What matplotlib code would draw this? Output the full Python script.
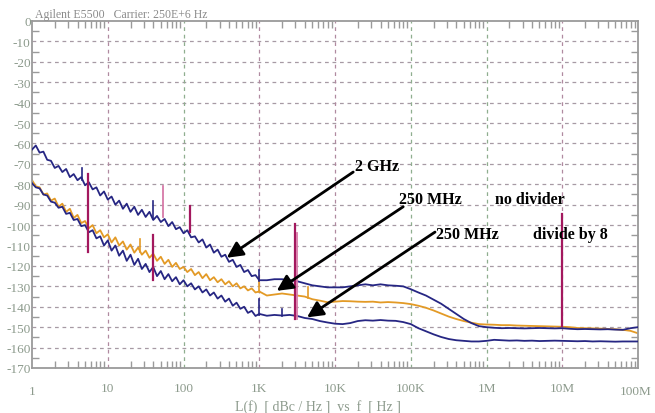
import numpy as np
import matplotlib
matplotlib.use('Agg')
import matplotlib.pyplot as plt

###########################
# Data
###########################

# offset frequency grid, as log10(Hz)
LOG_F = [0.00, 0.05, 0.10, 0.15, 0.20, 0.25, 0.30, 0.35, 0.40, 0.45,
         0.50, 0.55, 0.60, 0.65, 0.70, 0.75, 0.80, 0.85, 0.90, 0.95,
         1.00, 1.05, 1.10, 1.15, 1.20, 1.25, 1.30, 1.35, 1.40, 1.45,
         1.50, 1.55, 1.60, 1.65, 1.70, 1.75, 1.80, 1.85, 1.90, 1.95,
         2.00, 2.05, 2.10, 2.15, 2.20, 2.25, 2.30, 2.35, 2.40, 2.45,
         2.50, 2.55, 2.60, 2.65, 2.70, 2.75, 2.80, 2.85, 2.90, 2.95,
         3.00, 3.1, 3.2, 3.3, 3.4, 3.5, 3.6, 3.7, 3.8, 3.9,
         4.0, 4.1, 4.2, 4.3, 4.4, 4.5, 4.6, 4.7, 4.8, 4.9,
         5.0, 5.1, 5.2, 5.3, 5.4, 5.5, 5.6, 5.7, 5.8, 5.9,
         6.0, 6.1, 6.2, 6.3, 6.4, 6.5, 6.6, 6.7, 6.8, 6.9,
         7.0, 7.1, 7.2, 7.3, 7.4, 7.5, 7.6, 7.7, 7.8, 7.9, 8.0]

# 2 GHz trace
L_2GHZ = [-63, -61, -64.5, -64, -68, -68.5, -72, -71, -74, -72.5,
          -76.5, -75, -78, -76.5, -80.5, -79, -82.5, -81.5, -85.5, -83.5,
          -87.5, -86, -90, -88, -92, -89.5, -93.5, -91, -95, -92.5,
          -96, -93.5, -97.5, -95.5, -98.5, -97, -100.5, -98.5, -102, -101,
          -104, -102.5, -106, -105.5, -108.5, -107, -111, -109.5, -113.5, -112,
          -115.5, -114.5, -118, -117, -120.5, -119.5, -123, -122, -125, -124.5,
          -127, -127, -126.5, -126.5, -127, -127.5, -128.5, -129.5, -130, -130.5,
          -130.5, -130.5, -130, -129.5, -129, -129.5, -129, -129.5, -129.7, -130,
          -131.4, -133, -134.5, -136.5, -138.5, -141, -143.5, -146, -148, -149.5,
          -150, -150.3, -150.5, -150.4, -150.5, -150.6, -150.5, -150.4, -150.5, -150.6,
          -150.5, -150.8, -151, -150.9, -151, -151.1, -151, -151.2, -151.3, -150.5, -150]

# 250 MHz, no divider
L_250_NODIV = [-78, -81, -81.5, -85, -84.5, -88, -87, -91, -89.5, -93.5,
               -92, -96.5, -95, -99, -98, -101.5, -100, -104, -102.5, -106,
               -104.5, -108.5, -106, -110, -108, -112, -109.5, -113.5, -111, -114.5,
               -112.5, -116, -114, -117.5, -115.5, -119, -117, -120.5, -118.5, -121.5,
               -120.5, -123, -121.5, -124.5, -123, -126, -124, -127, -125.5, -128,
               -126.5, -129, -127.5, -130, -128.5, -131, -130, -132, -131, -133,
               -132.5, -134.5, -134, -133.5, -134, -134.5, -135, -136.3, -137, -137.8,
               -137.5, -137.2, -137.3, -137.5, -137.6, -137.5, -137.9, -137.7, -137.9, -138.2,
               -138.7, -139.5, -140.5, -141.8, -143.3, -144.8, -146, -147, -147.8, -148.5,
               -148.7, -148.8, -149, -149, -149.2, -149.3, -149.4, -149.5, -149.6, -149.7,
               -149.8, -150, -150.4, -150.5, -150.6, -150.7, -150.9, -151, -151.3, -151.8, -153]

# 250 MHz, divide by 8
L_250_DIV8 = [-79.5, -81.5, -82, -85, -85.5, -88.5, -89, -91.5, -91, -94.5,
              -94, -97.5, -97, -100.5, -100, -103.5, -102.5, -106.5, -105.5, -110,
              -107.5, -112.5, -110, -115, -112.5, -117.5, -114.5, -119.5, -116.5, -121.5,
              -119, -123, -120.5, -125, -122.5, -126.5, -124, -127.5, -125.5, -129,
              -127, -130, -128.5, -131.5, -130, -133, -131.5, -134.5, -133, -136,
              -134.5, -137.5, -136, -139.5, -138, -141, -140, -143, -142, -144.5,
              -143.5, -144.4, -144, -144.3, -144, -144.5, -145.5, -146, -147, -147.7,
              -148.3, -148.5, -148, -147, -146.6, -146.8, -146.5, -146.8, -146.9, -147.5,
              -148.5, -150.5, -152, -153.5, -154.8, -155.8, -156.4, -156.7, -157, -157,
              -156.7, -156.2, -156.4, -156.6, -156.5, -156.7, -156.6, -156.8, -156.7, -156.6,
              -156.7, -156.8, -156.9, -156.8, -157, -156.9, -157, -157.1, -157, -157, -157]

# narrow spikes riding on the traces: frequency [Hz], top, bottom
SPIKE_2GHZ = [(4.6, -72, -78), (40, -88, -97), (1000, -122, -127.5)]
SPIKE_NODIV = [(27, -107, -113), (1000, -125.5, -133), (4400, -130.5, -135.5)]
SPIKE_DIV8 = [(1000, -136, -144), (2000, -141, -144.5)]

# discrete spurs: frequency [Hz], top, bottom [dBc/Hz]
SPUR_F = [5.5, 39, 54, 122, 2970, 3150, 1e7]
SPUR_TOP = [-75, -105, -80.7, -90.5, -99.5, -104, -94.6]
SPUR_BOT = [-113, -127, -96, -103.5, -146, -146, -149.4]
SPUR_LIGHT = [False, False, True, False, False, True, False]

X_TICKS = [10, 100, 1e3, 1e4, 1e5, 1e6, 1e7]
X_TICK_LABELS = ['10', '100', '1K', '10K', '100K', '1M', '10M']
Y_TICKS = list(range(0, -171, -10))

# (text, text position, arrow start, arrow tip)
LABELS = [('2 GHz', (10 ** 4.26, -71), (10 ** 4.24, -74), (10 ** 2.57, -116)),
          ('250 MHz', (10 ** 4.85, -87.3), (10 ** 4.90, -91), (10 ** 3.23, -132.2)),
          ('250 MHz', (10 ** 5.33, -104.4), (10 ** 5.32, -103.4), (10 ** 3.63, -145.2))]
NOTES = [('no divider', (10 ** 6.11, -87.3)),
         ('divide by 8', (10 ** 6.61, -104.4))]

BLUE = '#262683'
ORANGE = '#e39a26'
SPUR = '#a3185e'
SPUR_PINK = '#d77aa8'
AXIS_GRAY = '#9a9a9a'
LABEL_GRAY = '#8c9a8c'


###########################
# Plot
###########################

def draw_grid(ax):
    for y in Y_TICKS[1:-1]:
        ax.axhline(y, color='#a79aa4', lw=0.9, ls=(0, (3, 3)), zorder=0)
    grid_cols = ['#b08aa0', '#8fae8f', '#b08aa0', '#b08aa0', '#8fae8f', '#8fae8f', '#b08aa0']
    for x, c in zip(X_TICKS, grid_cols):
        ax.axvline(x, color=c, lw=0.9, ls=(0, (3, 3)), zorder=0)

def draw_trace(ax, f, vals, spikes, color, z):
    ax.plot(f, vals, color=color, lw=1.3, zorder=z)
    for sf, top, bot in spikes:
        ax.plot([sf, sf], [top, bot], color=color, lw=1.2, zorder=z)

def main():
    fig = plt.figure(figsize=(6.55, 4.14), dpi=100)
    ax = fig.add_axes([0.0489, 0.1087, 0.9252, 0.8382])

    f = 10 ** np.array(LOG_F)

    draw_grid(ax)

    draw_trace(ax, f, L_250_NODIV, SPIKE_NODIV, ORANGE, 2)
    draw_trace(ax, f, L_2GHZ, SPIKE_2GHZ, BLUE, 3)
    draw_trace(ax, f, L_250_DIV8, SPIKE_DIV8, BLUE, 3)

    for sf, top, bot, light in zip(SPUR_F, SPUR_TOP, SPUR_BOT, SPUR_LIGHT):
        col = SPUR_PINK if light else SPUR
        ax.plot([sf, sf], [top, bot], color=col, lw=1.3 if light else 1.6, zorder=4)

    for txt, pos, start, tip in LABELS:
        ax.annotate('', xy=tip, xytext=start,
                    arrowprops=dict(arrowstyle='-|>', color='black', lw=2,
                                    mutation_scale=24, shrinkA=0, shrinkB=0),
                    zorder=6)
        ax.text(pos[0], pos[1], txt, fontsize=11.5, fontweight='bold',
                family='Liberation Serif', va='center', ha='left', zorder=7)
    for txt, pos in NOTES:
        ax.text(pos[0], pos[1], txt, fontsize=11.5, fontweight='bold',
                family='Liberation Serif', va='center', ha='left', zorder=7)

    ax.set_xscale('log')
    ax.set_xlim(1, 1e8)
    ax.set_ylim(-170, 0)

    ax.set_yticks(Y_TICKS)
    ax.set_yticklabels([str(v) for v in Y_TICKS])
    ax.set_yticks(list(range(-5, -170, -10)), minor=True)
    ax.set_xticks(X_TICKS)
    ax.set_xticklabels(X_TICK_LABELS)
    minor_x = [m * 10 ** d for d in range(8) for m in range(2, 10)]
    ax.set_xticks(minor_x, minor=True)
    ax.xaxis.set_minor_formatter(plt.NullFormatter())

    ax.tick_params(axis='both', which='major', length=0, labelsize=9.5,
                   labelcolor=LABEL_GRAY, pad=10)
    ax.tick_params(axis='y', which='major', pad=1)
    ax.tick_params(axis='both', which='minor', direction='in', length=5,
                   color=AXIS_GRAY, width=1, top=True, right=True)
    for lab in ax.get_xticklabels() + ax.get_yticklabels():
        lab.set_family('Liberation Serif')

    for sp in ax.spines.values():
        sp.set_color(AXIS_GRAY)
        sp.set_linewidth(1.3)

    # end labels sit lower than the others on the analyser screen
    ax.text(1, -181.5, '1', fontsize=9.5, color=LABEL_GRAY, family='Liberation Serif',
            ha='center', va='center')
    ax.text(10 ** 7.97, -181.5, '100M', fontsize=9.5, color=LABEL_GRAY,
            family='Liberation Serif', ha='center', va='center')

    fig.text(318 / 655, 1 - 407 / 414, 'L(f)  [ dBc / Hz ]  vs  f  [ Hz ]',
             fontsize=10, color=LABEL_GRAY, family='Liberation Serif',
             ha='center', va='center')
    fig.text(35 / 655, 1 - 15 / 414, 'Agilent E5500   Carrier: 250E+6 Hz',
             fontsize=8.5, color='#8a8a8a', family='Liberation Serif',
             ha='left', va='center')

    fig.savefig('out.png', dpi=100)

main()
